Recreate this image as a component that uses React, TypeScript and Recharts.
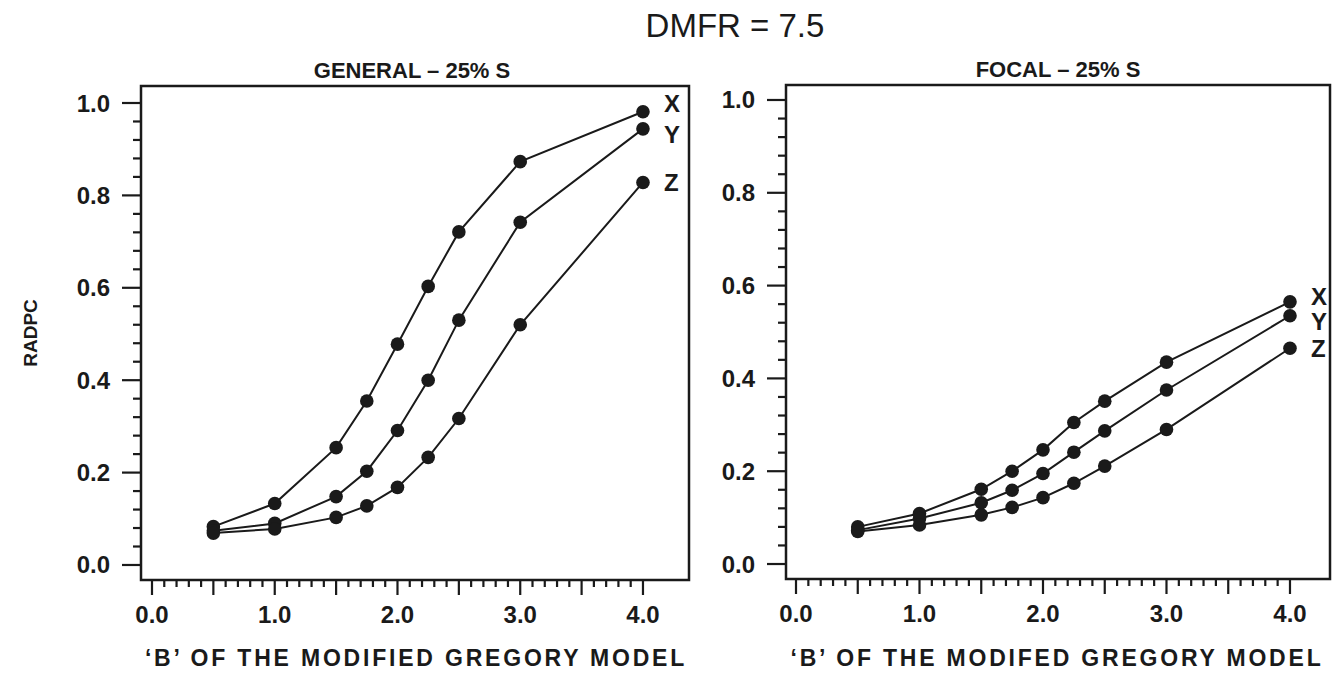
import React from 'react';
import { LineChart, Line, XAxis, YAxis, ReferenceArea, LabelList } from 'recharts';

const bValues = [0.5, 1.0, 1.5, 1.75, 2.0, 2.25, 2.5, 3.0, 4.0];
const generalX = [0.083, 0.133, 0.254, 0.355, 0.478, 0.603, 0.721, 0.873, 0.981];
const generalY = [0.074, 0.090, 0.148, 0.203, 0.291, 0.400, 0.530, 0.742, 0.944];
const generalZ = [0.069, 0.078, 0.103, 0.128, 0.168, 0.233, 0.317, 0.520, 0.828];
const focalX = [0.080, 0.109, 0.161, 0.200, 0.246, 0.305, 0.351, 0.435, 0.565];
const focalY = [0.073, 0.098, 0.132, 0.159, 0.195, 0.241, 0.287, 0.375, 0.535];
const focalZ = [0.070, 0.084, 0.106, 0.122, 0.143, 0.174, 0.211, 0.290, 0.465];
const seriesNames = ['X', 'Y', 'Z'];
const xTickLabels = ['0.0', '1.0', '2.0', '3.0', '4.0'];
const yTickLabels = ['0.0', '0.2', '0.4', '0.6', '0.8', '1.0'];
const mainTitle = 'DMFR = 7.5';
const leftTitle = 'GENERAL \u2013 25% S';
const rightTitle = 'FOCAL \u2013 25% S';
const leftXTitle = '\u2018B\u2019 OF THE MODIFIED GREGORY MODEL';
const rightXTitle = '\u2018B\u2019 OF THE MODIFED GREGORY MODEL';
const yTitle = 'RADPC';

const FONT = '"Liberation Sans", Arial, Helvetica, sans-serif';
const INK = '#1a1a1a';

// minor ticks every 0.1 on x (major every 0.5), every 0.04 on y (major every 0.2)
const xTicks = Array.from({ length: 41 }, (_, i) => i / 10);
const yTicks = Array.from({ length: 26 }, (_, i) => i * 0.04);

const buildRows = (xs: number[], ys: number[], zs: number[]) =>
  bValues.map((b, i) => ({ b, X: xs[i], Y: ys[i], Z: zs[i] }));

const generalRows = buildRows(generalX, generalY, generalZ);
const focalRows = buildRows(focalX, focalY, focalZ);

const XTick = (props: any) => {
  const { x, y, payload } = props;
  const v = payload.value as number;
  const r = Math.round(v * 10);
  const major = r % 5 === 0;
  const label = r % 10 === 0 ? xTickLabels[r / 10] : null;
  return (
    <g>
      <line x1={x} x2={x} y1={y} y2={y + (major ? 15 : 7)} stroke={INK} strokeWidth={2.2} />
      {label && (
        <text x={x} y={y + 43} textAnchor="middle" fontFamily={FONT} fontWeight="bold" fontSize={24} fill={INK}>
          {label}
        </text>
      )}
    </g>
  );
};

const YTick = (props: any) => {
  const { x, y, payload } = props;
  const v = payload.value as number;
  const r = Math.round(v * 100);
  const major = r % 20 === 0;
  const label = major ? yTickLabels[r / 20] : null;
  return (
    <g>
      <line x1={x} x2={x - (major ? 19 : 8)} y1={y} y2={y} stroke={INK} strokeWidth={2.2} />
      {label && (
        <text x={x - 31} y={y + 8.5} textAnchor="end" fontFamily={FONT} fontWeight="bold" fontSize={24} fill={INK}>
          {label}
        </text>
      )}
    </g>
  );
};

const endLabel = (name: string, dy: number, count: number) => (props: any) => {
  const { x, y, index } = props;
  if (index !== count - 1) return null;
  return (
    <text x={x + 21} y={y + dy} fontFamily={FONT} fontWeight="bold" fontSize={24} fill={INK}>
      {name}
    </text>
  );
};

type PanelProps = {
  rows: any[];
  left: number;
  width: number;
  yAxisWidth: number;
  margin: { top: number; right: number; bottom: number; left: number };
  xDomain: [number, number];
  yDomain: [number, number];
  labelDy: number[];
};

const Panel = ({ rows, left, width, yAxisWidth, margin, xDomain, yDomain, labelDy }: PanelProps) => (
  <div style={{ position: 'absolute', left, top: 0 }}>
    <LineChart width={width} height={673} data={rows} margin={margin}>
      <XAxis
        type="number"
        dataKey="b"
        domain={xDomain}
        allowDataOverflow
        ticks={xTicks}
        interval={0}
        tick={<XTick />}
        tickLine={false}
        tickSize={0}
        tickMargin={0}
        axisLine={false}
        height={80}
      />
      <YAxis
        type="number"
        domain={yDomain}
        allowDataOverflow
        ticks={yTicks}
        interval={0}
        tick={<YTick />}
        tickLine={false}
        tickSize={0}
        tickMargin={0}
        axisLine={false}
        width={yAxisWidth}
      />
      <ReferenceArea
        x1={xDomain[0]}
        x2={xDomain[1]}
        y1={yDomain[0]}
        y2={yDomain[1]}
        fill="none"
        fillOpacity={0}
        stroke={INK}
        strokeWidth={2.5}
        ifOverflow="visible"
      />
      {seriesNames.map((name, si) => (
        <Line
          key={name}
          type="linear"
          dataKey={name}
          stroke={INK}
          strokeWidth={2}
          dot={{ r: 6.8, fill: INK, stroke: 'none' }}
          isAnimationActive={false}
        >
          <LabelList dataKey={name} content={endLabel(name, labelDy[si], rows.length)} />
        </Line>
      ))}
    </LineChart>
  </div>
);

export default function App() {
  return (
    <div style={{ position: 'absolute', left: 0, top: 0, width: 1337, height: 673, background: '#fff', overflow: 'hidden' }}>
      <Panel
        rows={generalRows}
        left={0}
        width={700}
        yAxisWidth={100}
        margin={{ top: 86, right: 11, bottom: 13, left: 41 }}
        xDomain={[-0.0896, 4.375]}
        yDomain={[-0.0325, 1.0368]}
        labelDy={[0, 14, 9]}
      />
      <Panel
        rows={focalRows}
        left={720}
        width={617}
        yAxisWidth={60}
        margin={{ top: 85, right: 7, bottom: 14, left: 6 }}
        xDomain={[-0.081, 4.324]}
        yDomain={[-0.0323, 1.0323]}
        labelDy={[3, 14, 9]}
      />
      <svg width={1337} height={673} style={{ position: 'absolute', left: 0, top: 0, pointerEvents: 'none' }}>
        <text x={735} y={37} textAnchor="middle" fontFamily={FONT} fontSize={33} fill={INK}>
          {mainTitle}
        </text>
        <text x={412} y={78} textAnchor="middle" fontFamily={FONT} fontWeight="bold" fontSize={22} fill={INK}>
          {leftTitle}
        </text>
        <text x={1058} y={77} textAnchor="middle" fontFamily={FONT} fontWeight="bold" fontSize={22} fill={INK}>
          {rightTitle}
        </text>
        <text x={416} y={666} textAnchor="middle" fontFamily={FONT} fontWeight="bold" fontSize={23} letterSpacing={2.8} fill={INK}>
          {leftXTitle}
        </text>
        <text x={1057} y={666} textAnchor="middle" fontFamily={FONT} fontWeight="bold" fontSize={23} letterSpacing={2.8} fill={INK}>
          {rightXTitle}
        </text>
        <text
          x={0}
          y={0}
          transform="translate(37, 333) rotate(-90)"
          textAnchor="middle"
          fontFamily={FONT}
          fontWeight="bold"
          fontSize={19}
          fill={INK}
        >
          {yTitle}
        </text>
      </svg>
    </div>
  );
}
